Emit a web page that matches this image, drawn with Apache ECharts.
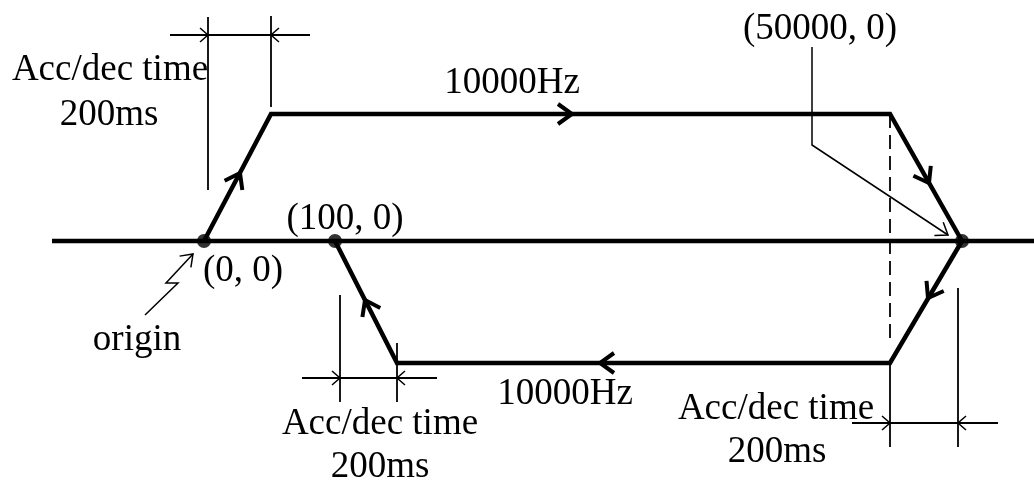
<!DOCTYPE html>
<html>
<head>
<meta charset="utf-8">
<script src="https://cdn.jsdelivr.net/npm/echarts@6/dist/echarts.min.js"></script>
<style>
  html, body { margin: 0; padding: 0; background: #fff; }
  #chart { width: 1034px; height: 487px; }
</style>
</head>
<body>
<div id="chart"></div>
<script>
// diagram frame: x = travel (origin at 0), y = speed (+ forward, - return)
const baseLine = [[-152, 0], [830, 0]]
const forwardPath = [[0, 0], [67, 127], [686, 127], [758, 0]]
const returnPath = [[758, 0], [686, -122], [193, -122], [131, 0]]
const points = [[0, 0], [131, 0], [758, 0]]
const dashGuide = [[686, 127], [686, -104]]

// dimension / leader lines
const dimLines = [
  [[4, 224], [4, 51]], [[67, 225], [67, 134]], [[-34, 206], [106, 206]],
  [[136, -54], [136, -161]], [[193, -102], [193, -161]], [[98, -137], [233, -137]],
  [[686, -122], [686, -206]], [[754, -47], [754, -206]], [[648, -182], [794, -182]]
]
const leaderLines = [
  [[608, 194], [608, 96], [744, 6]],
  [[-59, -74], [-26, -42], [-38, -42], [-11, -13]]
]

// arrow marks: [x, y, dirX, dirY]
const flowArrows = [[36, 68, 67, 127], [368, 127, 1, 0], [725, 58, 72, -127],
  [724, -57, -72, -122], [396, -122, -1, 0], [161, -59, -62, 122]]
const dimArrows = [[4, 206, 1, 0], [67, 206, -1, 0], [136, -137, 1, 0],
  [193, -137, -1, 0], [686, -182, 1, 0], [754, -182, -1, 0]]
const leaderArrows = [[744, 6, 136, -90], [-11, -13, 1, 1]]

const labelTexts = ['Acc/dec time', '200ms', '10000Hz', '(50000, 0)', '(100, 0)', '(0, 0)',
  'origin', 'Acc/dec time', '200ms', '10000Hz', 'Acc/dec time', '200ms']
const labelPoints = [[-94, 171], [-95, 126], [308, 158], [616, 212], [141, 22], [39, -30],
  [-67, -99], [176, -183], [176, -226], [361, -153], [572, -168], [573, -211]]

const chart = echarts.init(document.getElementById('chart'))

const pathSeries = (data, width, type) => ({
  type: 'line',
  data,
  symbol: 'none',
  lineStyle: { color: '#000', width, type: type || 'solid', join: 'miter' },
  silent: true
})

const segSeries = (segs, width) => ({
  type: 'lines',
  coordinateSystem: 'cartesian2d',
  polyline: true,
  data: segs.map(c => ({ coords: c })),
  lineStyle: { color: '#000', width, opacity: 1 },
  silent: true
})

const chevronSeries = (data, len, half, width) => ({
  type: 'custom',
  data,
  silent: true,
  renderItem: (params, api) => {
    const p = api.coord([api.value(0), api.value(1)])
    const q = api.coord([api.value(0) + api.value(2), api.value(1) + api.value(3)])
    let dx = q[0] - p[0]
    let dy = q[1] - p[1]
    const n = Math.hypot(dx, dy)
    dx /= n
    dy /= n
    const bx = p[0] - dx * len
    const by = p[1] - dy * len
    return {
      type: 'polyline',
      shape: { points: [[bx - dy * half, by + dx * half], p, [bx + dy * half, by - dx * half]] },
      style: { stroke: '#000', lineWidth: width, fill: null, lineJoin: 'miter' }
    }
  }
})

chart.setOption({
  animation: false,
  backgroundColor: '#fff',
  grid: { left: 0, right: 0, top: 0, bottom: 0 },
  xAxis: { type: 'value', min: -204, max: 830, show: false },
  yAxis: { type: 'value', min: -246, max: 241, show: false },
  series: [
    pathSeries(baseLine, 4.5),
    pathSeries(forwardPath, 4.5),
    pathSeries(returnPath, 4.5),
    pathSeries(dashGuide, 1.8, [14, 7]),
    segSeries(dimLines, 1.8),
    segSeries(leaderLines, 1.5),
    chevronSeries(flowArrows, 14, 10, 4),
    chevronSeries(dimArrows, 8, 7, 1.5),
    chevronSeries(leaderArrows, 11, 8, 1.5),
    {
      type: 'scatter',
      data: points,
      symbolSize: 14,
      itemStyle: { color: '#000' },
      silent: true
    },
    {
      type: 'custom',
      data: labelPoints.map((p, i) => [p[0], p[1], i]),
      silent: true,
      renderItem: (params, api) => {
        const p = api.coord([api.value(0), api.value(1)])
        return {
          type: 'text',
          x: p[0],
          y: p[1],
          style: {
            text: labelTexts[api.value(2)],
            font: '37px "Liberation Serif"',
            fill: '#000',
            align: 'center',
            verticalAlign: 'middle'
          }
        }
      }
    }
  ]
})
</script>
</body>
</html>
